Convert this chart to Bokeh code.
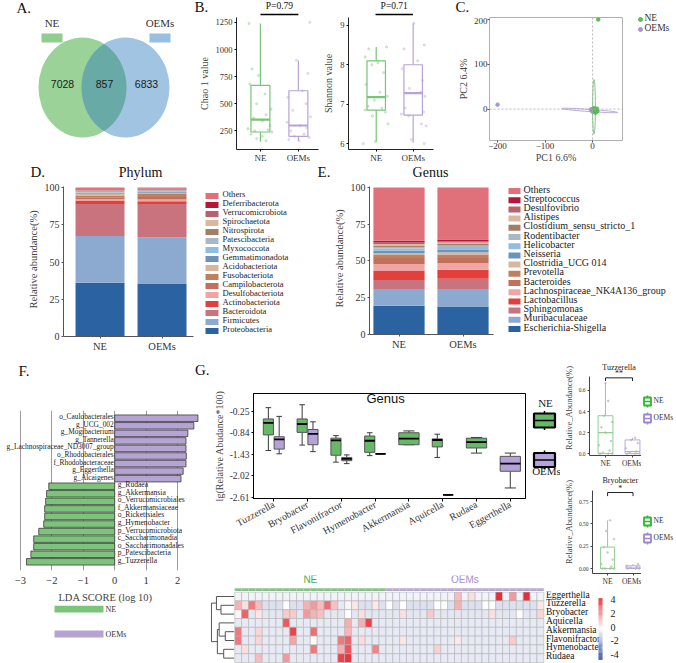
import numpy as np
from bokeh.plotting import figure
from bokeh.layouts import row, column
from bokeh.models import Range1d, Span, ColumnDataSource, LinearColorMapper
from bokeh.core.properties import value
from bokeh.embed import file_html
from bokeh.resources import INLINE

# ======================= DATA =======================
groups = ["NE", "OEMs"]
venn_only = [7028, 6833]
venn_shared = 857

# box stats: low whisker, q1, median, q3, high whisker
chao_ne = [150, 240, 355, 670, 1240]
chao_oe = [160, 200, 300, 620, 900]
chao_ne_pts = [1240, 820, 760, 680, 590, 500, 450, 400, 370, 340, 300, 270, 260, 250, 240, 220, 200, 180, 160]
chao_ne_jit = [-0.30, -0.22, -0.05, -0.28, 0.12, -0.10, 0.28, 0.15, -0.18, 0.05, 0.25, -0.33, 0.20, -0.15, 0.30, -0.25, 0.05, -0.10, 0.15]
chao_oe_pts = [1250, 900, 780, 620, 560, 500, 440, 380, 330, 300, 280, 250, 220, 200, 190, 170, 160]
chao_oe_jit = [0.30, -0.05, 0.25, 0.10, -0.28, 0.20, -0.15, 0.32, -0.30, 0.05, 0.22, -0.20, 0.15, -0.10, 0.28, -0.25, 0.02]
chao_p = "P=0.79"

shan_ne = [6.05, 6.85, 7.18, 8.10, 8.45]
shan_oe = [6.02, 6.72, 7.28, 8.00, 9.05]
shan_ne_pts = [8.45, 8.40, 8.20, 8.05, 8.00, 7.80, 7.50, 7.30, 7.20, 7.10, 6.95, 6.90, 6.85, 6.80, 6.70, 6.50, 6.05, 6.00]
shan_ne_jit = [0.28, -0.20, -0.30, 0.05, -0.12, 0.20, -0.28, 0.10, 0.30, -0.05, -0.22, 0.15, -0.30, 0.25, -0.10, 0.32, -0.02, -0.35]
shan_oe_pts = [9.05, 8.50, 8.40, 8.10, 7.90, 7.60, 7.40, 7.30, 7.20, 6.90, 6.80, 6.75, 6.70, 6.50, 6.45, 6.10, 6.00]
shan_oe_jit = [0.02, 0.30, -0.25, 0.12, -0.30, 0.25, -0.10, 0.20, 0.32, -0.22, 0.28, -0.32, -0.12, 0.22, 0.35, -0.05, 0.30]
shan_p = "P=0.71"

pca_ne_x = [12, 5, 8, 3, 10, 6, 2, 9, 4, 7]
pca_ne_y = [200, -2, -6, 2, -4, -8, -3, 1, -5, -1]
pca_oe_x = [-200, -2, 1, -4, 3, 0, -1, 2]
pca_oe_y = [10, -3, -5, -1, -2, -6, 0, -4]
pca_ne_ellipse = [3, 5, 6, 122, 0.0]      # cx, cy, width, height, angle
pca_oe_ellipse = [-6, -3, 118, 5, -0.07]

phylum_names = ["Proteobacteria", "Firmicutes", "Bacteroidota", "Actinobacteriota", "Desulfobacteriota",
                "Campilobacterota", "Fusobacteriota", "Acidobacteriota", "Gemmatimonadota", "Myxococcota",
                "Patescibacteria", "Nitrospirota", "Spirochaetota", "Verrucomicrobiota", "Deferribacterota", "Others"]
phylum_ne = [36.0, 31.5, 21.5, 2.2, 1.0, 1.3, 1.2, 0.9, 0.6, 0.5, 0.7, 0.3, 0.3, 0.5, 0.3, 1.2]
phylum_oe = [35.5, 31.0, 22.5, 1.8, 1.2, 1.6, 2.0, 0.8, 0.6, 0.5, 0.6, 0.2, 0.2, 0.4, 0.2, 0.9]

genus_names = ["Escherichia-Shigella", "Muribaculaceae", "Sphingomonas", "Lactobacillus",
               "Lachnospiraceae_NK4A136_group", "Bacteroides", "Prevotella", "Clostridia_UCG 014",
               "Neisseria", "Helicobacter", "Rodentibacter", "Clostidium_sensu_stricto_1", "Alistipes",
               "Desulfovibrio", "Streptococcus", "Others"]
genus_ne = [19.5, 11.0, 6.5, 6.5, 4.5, 4.0, 2.0, 1.5, 1.5, 1.5, 1.0, 1.0, 1.0, 1.0, 1.2, 36.3]
genus_oe = [19.0, 12.0, 7.0, 6.0, 4.5, 3.5, 2.5, 1.5, 1.5, 2.0, 1.0, 1.0, 1.0, 1.0, 1.2, 35.3]

stack_colors = ["#2b62a1", "#8ca9cf", "#c8737e", "#e2403c", "#f0a5a5", "#c2705e", "#c0805e", "#d6b79b",
                "#6b93bd", "#90bde1", "#a7b9c6", "#a37e66", "#d8b9a0", "#b9606f", "#b5173a", "#e0707a"]

lda_names = ["o_Caulobacterales", "g_UCG_002", "g_Mogibacterium", "g_Tannerella", "g_Lachnospiraceae_ND3007_group",
             "o_Rhodobacterales", "f_Rhodobacteraceae", "g_Eggerthella", "g_Alcaigenes", "g_Rudaea",
             "g_Akkermansia", "o_Verrucomicrobiales", "f_Akkermansiaceae", "o_Rickettsiales", "g_Hymenobacter",
             "p_Verrucomicrobiota", "c_Saccharimonadia", "o_Saccharimonadales", "p_Patescibacteria", "g_Tuzzerella"]
lda_scores = [2.65, 2.52, 2.33, 2.27, 2.27, 2.28, 2.27, 2.18, 2.11, -2.10, -2.17, -2.20, -2.23, -2.23, -2.26,
              -2.42, -2.58, -2.58, -2.67, -2.81]

box_genera = ["Tuzzerella", "Bryobacter", "Flavonifractor", "Hymenobacter", "Akkermansia", "Aquicella", "Rudaea", "Eggerthella"]
ne_lo = [-1.33, -1.18, -1.65, -1.47, -1.17, -1.52, -1.40, None]
ne_q1 = [-0.90, -0.83, -1.46, -1.38, -1.17, -1.23, -1.26, None]
ne_md = [-0.57, -0.60, -1.05, -1.06, -1.00, -1.04, -1.10, None]
ne_q3 = [-0.46, -0.46, -0.99, -0.93, -0.84, -1.01, -0.99, None]
ne_hi = [-0.15, -0.07, -0.92, -0.84, -0.79, -0.88, -0.97, None]
oe_lo = [-1.42, -1.36, -1.69, -1.42, None, -2.55, None, -2.36]
oe_q1 = [-1.29, -1.17, -1.61, -1.42, None, -2.55, None, -1.90]
oe_md = [-1.02, -0.87, -1.56, -1.42, None, -2.55, None, -1.69]
oe_q3 = [-0.95, -0.75, -1.52, -1.42, None, -2.55, None, -1.49]
oe_hi = [-0.39, -0.54, -1.45, -1.42, None, -2.55, None, -1.40]
box_ticks = [-0.25, -0.84, -1.43, -2.02, -2.61]

tuz_ne = [0.0, 0.0, 0.20, 0.36, 0.67]
tuz_oe = [0.0, 0.0, 0.02, 0.13, 0.15]
tuz_ne_pts = [0.0, 0.0, 0.0, 0.01, 0.03, 0.08, 0.12, 0.2, 0.25, 0.3, 0.36, 0.5, 0.67]
tuz_ne_jit = [-0.2, 0.1, 0.25, -0.1, 0.15, -0.25, 0.2, 0.0, -0.15, 0.25, -0.05, 0.1, 0.0]
tuz_oe_pts = [0.0, 0.0, 0.0, 0.01, 0.02, 0.05, 0.1, 0.13, 0.15]
tuz_oe_jit = [-0.2, 0.1, 0.25, -0.1, 0.15, -0.25, 0.2, -0.05, 0.1]
bry_ne = [0.0, 0.0, 0.0, 0.24, 0.54]
bry_oe = [0.0, 0.0, 0.005, 0.03, 0.05]
bry_ne_pts = [0.0, 0.0, 0.0, 0.0, 0.02, 0.05, 0.1, 0.18, 0.24, 0.33, 0.42, 0.54]
bry_ne_jit = [-0.2, 0.1, 0.25, -0.1, 0.15, -0.25, 0.2, 0.0, -0.15, 0.25, -0.05, 0.1]
bry_oe_pts = [0.0, 0.0, 0.0, 0.01, 0.02, 0.03, 0.05]
bry_oe_jit = [-0.2, 0.1, 0.25, -0.1, 0.15, -0.25, 0.2]

heat_rows = ["Eggerthella", "Tuzzerella", "Bryobacter", "Aquicella", "Akkermansia", "Flavonifractor", "Hymenobacter", "Rudaea"]
heat_n_ne = 22
heat_n_oe = 23
heat_eggerthella = [-0.3, -0.3, -0.3, -0.3, -0.3, -0.3, -0.3, -0.3, -0.3, -0.3, -0.3, -0.3, -0.3, -0.3, -0.3,
                    -0.3, -0.3, -0.3, -0.3, -0.3, -0.3, -0.3, -0.3, -0.3, -0.3, -0.3, -0.3, -0.3, -0.3, -0.3,
                    -0.3, -0.3, 1.3, -0.3, 0.6, -0.3, -0.3, -0.3, 4.0, -0.3, 2.0, -0.3, 4.0, -0.3, -0.3]
heat_tuzzerella = [1.5, 0.6, 2.5, 1.3, -0.7, -0.7, -0.7, 0.1, -0.7, -0.7, 1.5, 2.0, 1.3, 2.8, 1.2,
                   -0.5, -0.2, 0.5, -0.7, -0.7, 0.5, -0.7, -0.1, -0.7, 0.0, -0.7, -0.7, -0.7, -0.7, 0.0,
                   -0.1, -0.7, 1.5, -0.7, -0.7, -0.7, -0.1, -0.1, -0.7, -0.7, -0.7, -0.7, -0.7, -0.7, 0.5]
heat_bryobacter = [0.2, 3.0, -0.55, 0.5, -0.55, -0.55, -0.55, 1.0, 1.0, -0.55, 2.0, 1.5, 1.2, -0.55, -0.55,
                   -0.55, 0.0, -0.55, 0.6, -0.55, -0.55, -0.55, -0.55, -0.55, 0.6, -0.55, -0.55, -0.55, 1.0, -0.55,
                   -0.55, -0.55, -0.55, -0.55, -0.55, -0.55, -0.55, 0.6, -0.55, -0.55, -0.55, -0.1, -0.55, -0.55, 0.8]
heat_aquicella = [-0.45, -0.45, -0.45, -0.45, -0.45, -0.45, -0.45, 3.2, -0.45, -0.45, -0.45, -0.45, -0.45, -0.45, -0.45,
                  -0.45, 1.6, -0.45, 1.6, 3.6, -0.45, -0.45, -0.45, -0.45, -0.45, -0.45, -0.45, -0.45, -0.45, -0.45,
                  -0.45, -0.45, -0.45, -0.45, -0.45, -0.45, -0.45, -0.45, -0.45, -0.45, -0.45, -0.45, -0.45, -0.45, -0.45]
heat_akkermansia = [2.6, -0.45, -0.45, 0.8, -0.45, -0.45, -0.45, -0.45, 3.6, -0.45, -0.45, 2.8, -0.45, -0.45, -0.45,
                    -0.45, 1.4, -0.45, -0.45, -0.45, -0.45, -0.45, -0.45, -0.45, -0.45, -0.45, -0.45, -0.45, -0.45, -0.45,
                    -0.45, -0.45, -0.45, -0.45, -0.45, -0.45, -0.45, -0.45, -0.45, -0.45, -0.45, -0.45, -0.45, -0.45, -0.45]
heat_flavonifractor = [2.6, -0.45, -0.45, 0.8, -0.45, -0.45, -0.45, -0.45, 1.8, -0.45, -0.45, 0.1, -0.45, -0.45, -0.45,
                       2.6, 3.0, -0.45, 0.7, -0.45, -0.45, -0.45, -0.45, -0.45, 0.5, -0.45, -0.45, -0.45, -0.45, -0.45,
                       -0.45, -0.45, 0.4, -0.45, -0.45, -0.45, -0.45, -0.45, -0.45, -0.45, 1.0, -0.45, -0.45, -0.45, -0.45]
heat_hymenobacter = [-0.45, 0.6, -0.45, -0.45, -0.45, -0.45, -0.45, -0.45, -0.45, -0.45, -0.45, 2.6, -0.45, -0.45, -0.45,
                     1.6, 3.3, -0.45, -0.45, -0.45, 2.4, -0.45, -0.45, -0.45, -0.45, -0.45, -0.45, -0.45, -0.45, 0.9,
                     -0.45, -0.45, -0.45, -0.45, -0.45, -0.45, -0.45, -0.45, -0.45, -0.45, -0.45, -0.45, -0.45, -0.45, -0.45]
heat_rudaea = [-0.45, -0.45, -0.45, 1.3, -0.45, -0.45, -0.45, 2.0, -0.45, -0.45, -0.45, -0.45, -0.45, -0.45, -0.45,
               3.6, 3.9, -0.45, -0.45, -0.45, -0.45, -0.45, -0.45, -0.45, -0.45, -0.45, -0.45, -0.45, -0.45, -0.45,
               -0.45, -0.45, -0.45, -0.45, -0.45, -0.45, -0.45, -0.45, -0.45, -0.45, -0.45, -0.45, -0.45, -0.45, -0.45]
heat_values = [heat_eggerthella, heat_tuzzerella, heat_bryobacter, heat_aquicella, heat_akkermansia,
               heat_flavonifractor, heat_hymenobacter, heat_rudaea]
heat_legend_ticks = [4, 2, 0, -2, -4]
# row clustering: (child a, child b, height); new nodes numbered 8, 9, ...
dend_merges = [(1, 2, 0.58), (0, 8, 0.78), (4, 5, 0.39), (3, 10, 0.66), (6, 7, 0.46), (11, 12, 0.74), (9, 13, 1.0)]

# ======================= STYLE / LAYOUT HELPERS =======================
GREEN = "#79c37a"
PURPLE = "#b7a3d6"
SERIF = "Liberation Serif"
SANS = "Liberation Sans"
LETTER = "15px"


def panel(box, frame=None, xr=(0, 1), yr=(0, 1), xaxis=True, yaxis=True):
    x0, y0, x1, y1 = box
    fx0, fy0, fx1, fy1 = frame if frame else box
    kw = {}
    if not xaxis:
        kw["x_axis_location"] = None
    if not yaxis:
        kw["y_axis_location"] = None
    p = figure(width=x1 - x0, height=y1 - y0,
               x_range=Range1d(*xr), y_range=Range1d(*yr),
               output_backend="svg", toolbar_location=None, title=None,
               min_border_left=fx0 - x0, min_border_right=x1 - fx1,
               min_border_top=fy0 - y0, min_border_bottom=y1 - fy1, **kw)
    p.outline_line_color = None
    p.grid.visible = False
    for ax in p.axis:
        ax.major_label_text_font = SERIF
        ax.axis_label_text_font = SERIF
        ax.axis_label_text_font_style = "normal"
        ax.minor_tick_line_color = None
        ax.major_tick_in = 0
        ax.major_tick_out = 2
        ax.major_label_standoff = 2
        ax.axis_label_standoff = 3
        ax.major_label_text_color = "#333333"
        ax.axis_line_color = "#222222"
    return p


def strip(box):
    x0, y0, x1, y1 = box
    return panel(box, xr=(x0, x1), yr=(0, y1 - y0), xaxis=False, yaxis=False)


def mapper(frame, xr, yr):
    fx0, fy0, fx1, fy1 = frame
    fx = lambda px: xr[0] + (px - fx0) / (fx1 - fx0) * (xr[1] - xr[0])
    fy = lambda py: yr[1] + (py - fy0) / (fy1 - fy0) * (yr[0] - yr[1])
    return fx, fy


def to_px(frame, xr):
    fx0, _, fx1, _ = frame
    return lambda x: fx0 + (x - xr[0]) / (xr[1] - xr[0]) * (fx1 - fx0)


def txt(p, xs, ys, texts, size, font=SERIF, align="center", color="#222222", lift=True, **kw):
    # svg 'middle' baseline sits slightly low: lift by ~0.2 em so the glyphs centre on y
    dy = -0.2 * float(size.replace("px", "")) if lift else 0
    p.text(x=xs, y=ys, text=texts, text_font=value(font), text_font_size=size,
           text_align=align, text_baseline="middle", text_color=color, y_offset=dy, **kw)


def W(p):
    return column(p)


# ======================= A: Venn =======================
pA = panel((0, 0, 192, 165), xr=(0, 192), yr=(0, 165), xaxis=False, yaxis=False)
ya = lambda v: 165 - v
vcx = [82.0, 125.0]
vcy, vrx, vry = ya(87.0), 44.0, 50.0
pA.ellipse(x=vcx, y=[vcy, vcy], width=2 * vrx, height=2 * vry, fill_color=["#9ad298", "#a0c4e2"], line_color=None)
t0 = np.arccos(((vcx[0] + vcx[1]) / 2 - vcx[0]) / vrx)
ta = np.linspace(-t0, t0, 40)
tb = np.linspace(np.pi - t0, np.pi + t0, 40)
lens_x = list(vcx[0] + vrx * np.cos(ta)) + list(vcx[1] + vrx * np.cos(tb))
lens_y = list(vcy + vry * np.sin(ta)) + list(vcy + vry * np.sin(tb))
pA.patch(lens_x, lens_y, fill_color="#67aaa6", line_color=None)
txt(pA, [62, 104, 146], [ya(86)] * 3, [str(venn_only[0]), str(venn_shared), str(venn_only[1])], "10.5px", font=SANS, color="#1a1a1a")
pA.rect(x=[51.5, 159.5], y=[ya(37.5)] * 2, width=21, height=9, fill_color=["#8fce8f", "#96bfe0"], line_color=None)
txt(pA, [51.5, 159.5], [ya(25)] * 2, groups, "11px", color="#333333")
txt(pA, [16], [ya(10)], ["A."], LETTER, align="left", color="#111111")


# ======================= B: alpha diversity =======================
def alpha_panel(box, frame, xr, yr, stats, pts, jits, ticks, ylab):
    p = panel(box, frame, xr, yr)
    p.yaxis.ticker = ticks
    p.yaxis.axis_label = ylab
    p.yaxis.axis_label_text_font_size = "10px"
    p.yaxis.major_label_text_font_size = "8.5px"
    p.xaxis.ticker = [0, 1]
    p.xaxis.major_label_overrides = {0: groups[0], 1: groups[1]}
    p.xaxis.major_label_text_font_size = "9px"
    p.xaxis.major_label_standoff = 1
    cols = [GREEN, PURPLE]
    for gi in range(2):
        lo, q1, md, q3, hi = stats[gi]
        p.segment(x0=[gi, gi], x1=[gi, gi], y0=[q3, q1], y1=[hi, lo], line_color=cols[gi], line_width=1.2)
        p.vbar(x=[gi], width=0.5, bottom=[q1], top=[q3], fill_color=None, line_color=cols[gi], line_width=1.2)
        p.segment(x0=[gi - 0.25], x1=[gi + 0.25], y0=[md], y1=[md], line_color=cols[gi], line_width=2.2)
        p.scatter(x=[gi + j for j in jits[gi]], y=pts[gi], size=2.3, color=cols[gi], alpha=0.3)
    return p


B1_FR, b1_xr = (236, 17, 318, 152), (-0.63, 1.53)
B2_FR, b2_xr = (347, 17, 433, 152), (-0.75, 1.55)
pB1 = alpha_panel((192, 17, 320, 165), B1_FR, b1_xr, (79, 1295), [chao_ne, chao_oe], [chao_ne_pts, chao_oe_pts],
                  [chao_ne_jit, chao_oe_jit], [250, 500, 750, 1000, 1250], "Chao 1 value")
pB2 = alpha_panel((320, 17, 440, 165), B2_FR, b2_xr, (5.85, 9.198), [shan_ne, shan_oe], [shan_ne_pts, shan_oe_pts],
                  [shan_ne_jit, shan_oe_jit], [6, 7, 8, 9], "Shannon value")
# strip above the two alpha panels: letter, significance brackets
pTB = strip((192, 0, 440, 17))
px1, px2 = to_px(B1_FR, b1_xr), to_px(B2_FR, b2_xr)
pTB.segment(x0=[px1(0), px2(0)], x1=[px1(1), px2(1)], y0=[17 - 14] * 2, y1=[17 - 14] * 2, line_color="black", line_width=1.5)
txt(pTB, [(px1(0) + px1(1)) / 2, (px2(0) + px2(1)) / 2], [17 - 7.5] * 2, [chao_p, shan_p], "9.5px", color="#111111")
txt(pTB, [194], [17 - 9.5], ["B."], LETTER, align="left", color="#111111")

# ======================= C: PCA =======================
C_FR = (489, 17, 622, 142)
c_xr, c_yr = (-217, 63), (-70, 204.4)
pC = panel((440, 17, 632, 165), C_FR, c_xr, c_yr)
pC.outline_line_color = "#b0b0b0"
pC.xaxis.ticker = [-200, -100, 0]
pC.yaxis.ticker = [0, 100, 200]
for ax in pC.axis:
    ax.axis_line_color = None
    ax.major_tick_line_color = "#555555"
    ax.major_label_text_font_size = "9px"
    ax.axis_label_text_font_size = "10px"
    ax.major_label_standoff = 0
    ax.axis_label_standoff = 0
pC.xaxis.axis_label = "PC1 6.6%"
pC.yaxis.axis_label = "PC2 6.4%"
pC.yaxis.axis_label_standoff = 2
pC.add_layout(Span(location=0, dimension="height", line_color="#aaaaaa", line_dash="2 2", line_width=0.8))
pC.add_layout(Span(location=0, dimension="width", line_color="#aaaaaa", line_dash="2 2", line_width=0.8))
for ell, col in [(pca_ne_ellipse, GREEN), (pca_oe_ellipse, PURPLE)]:
    pC.ellipse(x=[ell[0]], y=[ell[1]], width=[ell[2]], height=[ell[3]], angle=ell[4],
               fill_color=col, fill_alpha=0.05, line_color=col, line_width=0.9)
pC.scatter(x=pca_oe_x, y=pca_oe_y, size=3.5, color="#a796cf")
pC.scatter(x=pca_ne_x, y=pca_ne_y, size=3.5, color="#5cb85c")
pTC = strip((440, 0, 632, 17))
txt(pTC, [455], [17 - 9.5], ["C."], LETTER, align="left", color="#111111")

pCL = panel((632, 0, 676, 165), xr=(632, 676), yr=(0, 165), xaxis=False, yaxis=False)
pCL.scatter(x=[640, 640], y=[165 - 19, 165 - 29], size=4, color=["#5cb85c", "#a796cf"])
txt(pCL, [644, 644], [165 - 19, 165 - 29], groups, "9.5px", align="left", color="#333333")


# ======================= D / E: stacked composition =======================
def stack_panel(box, frame, xr, yr, names, ne, oe, bar_w, unit_px, leg_x, leg_y0, leg_dy, leg_w,
                leg_text_x, leg_font, tick_font, xb):
    p = panel(box, frame, xr, yr)
    fx, fy = mapper(frame, xr, yr)
    src = ColumnDataSource({**{n: [a, b] for n, a, b in zip(names, ne, oe)}, "x": [0, 1]})
    p.vbar_stack(names, x="x", width=bar_w, fill_color=stack_colors, line_color=None, source=src)
    p.xaxis.ticker = [0, 1]
    p.xaxis.major_label_overrides = {0: groups[0], 1: groups[1]}
    p.xaxis.bounds = xb
    p.yaxis.ticker = [0, 25, 50, 75, 100]
    p.yaxis.bounds = (0, 100.6)
    p.yaxis.axis_label = "Relative abundance(%)"
    p.yaxis.axis_label_text_font_size = "10.5px"
    p.yaxis.major_label_text_font_size = tick_font
    p.xaxis.major_label_text_font_size = "10.5px"
    for ax in p.axis:
        ax.axis_line_color = "#555555"
        ax.major_tick_line_color = "#555555"
    k = len(names)
    ly = [fy(leg_y0 + leg_dy * i) for i in range(k)]
    p.rect(x=[fx(leg_x)] * k, y=ly, width=leg_w / unit_px[0], height=6.0 / unit_px[1],
           fill_color=stack_colors[::-1], line_color=None)
    txt(p, [fx(leg_text_x)] * k, ly, names[::-1], leg_font, align="left", color="#222222")
    return p


pD = stack_panel((0, 182, 312, 360), (63, 182, 312, 336), (-0.589, 3.427), (0, 103.36), phylum_names, phylum_ne,
                 phylum_oe, 0.79, (62.0, 1.49), 211.5, 195.5, 9.0, 13, 222, "8.6px", "10px", (-0.589, 1.51))
pE = stack_panel((312, 182, 676, 360), (369, 182, 676, 334), (-0.461, 4.336), (0, 103.40), genus_names, genus_ne,
                 genus_oe, 0.8, (64.0, 1.47), 514, 190.5, 9.2, 12, 523, "10px", "10px", (-0.461, 1.48))
pTD = strip((0, 165, 676, 182))
txt(pTD, [30, 317], [182 - 174.5] * 2, ["D.", "E."], LETTER, align="left", color="#111111")
txt(pTD, [140, 430], [182 - 175] * 2, ["Phylum", "Genus"], "14px", color="#111111")

# ======================= F: LDA =======================
F_FR = (0, 410, 210, 572)
f_xr, f_yr = (-3.637, 3.05), (-1.15, 20.02)
pF = panel((0, 410, 210, 605), F_FR, f_xr, f_yr, yaxis=False)
pF.xaxis.ticker = [-3, -2, -1, 0, 1, 2]
pF.xgrid.visible = True
pF.xgrid.grid_line_color = "#9a9a9a"
pF.xaxis.axis_line_color = None
pF.xaxis.major_tick_line_color = None
pF.xaxis.major_label_text_font_size = "10.5px"
pF.xaxis.major_label_standoff = 4
pF.xaxis.axis_label = "LDA SCORE (log 10)"
pF.xaxis.axis_label_text_font_size = "10.5px"
pF.xaxis.axis_label_standoff = 5
n_l = len(lda_names)
ypos = [n_l - 1 - i for i in range(n_l)]
lcols = ["#b5a3d3" if v > 0 else "#7cc47a" for v in lda_scores]
pF.hbar(y=ypos, left=0, right=lda_scores, height=0.86, fill_color=lcols, line_color="#3c3c3c", line_width=0.8)
pos_i = [i for i, v in enumerate(lda_scores) if v > 0]
neg_i = [i for i, v in enumerate(lda_scores) if v <= 0]
txt(pF, [0] * len(pos_i), [ypos[i] for i in pos_i], [lda_names[i] for i in pos_i], "7.4px", align="right", x_offset=-1)
txt(pF, [0] * len(neg_i), [ypos[i] for i in neg_i], [lda_names[i] for i in neg_i], "7.6px", align="left", x_offset=3)
pTF = strip((0, 360, 210, 410))
txt(pTF, [18], [410 - 373.5], ["F."], LETTER, align="left", color="#111111")
txt(pTF, [209], [410 - 372.5], ["G."], LETTER, align="right", color="#111111")

pFL = panel((0, 605, 210, 663), xr=(0, 210), yr=(0, 58), xaxis=False, yaxis=False)
pFL.rect(x=[78.5, 78.5], y=[663 - 608.5, 663 - 633.5], width=49, height=7, fill_color=["#7cc47a", "#b5a3d3"], line_color=None)
txt(pFL, [105, 105], [663 - 609, 663 - 633.5], groups, "8px", align="left", color="#333333", lift=False)

# ======================= G: genus boxplot =======================
G_FR = (249, 393, 525, 498)
g_xr, g_yr = (-0.6, 7.45), (-2.65, 0.24)
pG = panel((210, 360, 530, 575), G_FR, g_xr, g_yr)
pG.outline_line_color = "black"
pG.xaxis.ticker = list(range(len(box_genera)))
pG.xaxis.major_label_overrides = {i: g for i, g in enumerate(box_genera)}
pG.xaxis.major_label_orientation = 0.5
pG.xaxis.major_label_text_font_size = "10px"
pG.xaxis.major_tick_out = 3
pG.yaxis.ticker = box_ticks
pG.yaxis.major_label_overrides = {t: "%.2f" % t for t in box_ticks}
pG.yaxis.major_label_text_font_size = "9.5px"
pG.yaxis.axis_label = "lg(Relative Abudance*100)"
pG.yaxis.axis_label_text_font_size = "10px"
pG.yaxis.axis_label_standoff = 2
for ax in pG.axis:
    ax.axis_line_color = "black"
gfills = ["#66b966", "#b5a2d6"]
for i in range(len(box_genera)):
    gstats = [(ne_lo[i], ne_q1[i], ne_md[i], ne_q3[i], ne_hi[i]), (oe_lo[i], oe_q1[i], oe_md[i], oe_q3[i], oe_hi[i])]
    present = [s[0] is not None for s in gstats]
    both = all(present)
    for gi in range(2):
        if not present[gi]:
            continue
        lo, q1, md, q3, hi = gstats[gi]
        x = i + ((-0.16 if gi == 0 else 0.16) if both else 0.0)
        w = 0.3 if both else 0.6
        cw = w * 0.55
        pG.segment(x0=[x, x], x1=[x, x], y0=[q3, q1], y1=[hi, lo], line_color="#3a3a3a", line_width=1)
        pG.segment(x0=[x - cw / 2] * 2, x1=[x + cw / 2] * 2, y0=[hi, lo], y1=[hi, lo], line_color="#3a3a3a", line_width=1)
        pG.vbar(x=[x], width=w, bottom=[q1], top=[q3], fill_color=gfills[gi], line_color="#555555", line_width=1)
        pG.segment(x0=[x - w / 2], x1=[x + w / 2], y0=[md], y1=[md], line_color="black", line_width=1.8)
gfx, gfy = mapper(G_FR, g_xr, g_yr)
txt(pG, [gfx(383)], [gfy(401)], ["Genus"], "13px", font=SANS, color="#111111")

# legend beside the boxplot (same frame rows as the boxplot)
pGL = panel((530, 360, 560, 575), (530, 393, 560, 498), xr=(530, 560), yr=(0, 105), xaxis=False, yaxis=False)
gl_y = [498 - 420, 498 - 459.5]
pGL.segment(x0=[544, 544], x1=[544, 544], y0=[g - 9.5 for g in gl_y], y1=[g + 9.5 for g in gl_y], line_color="black", line_width=1.5)
pGL.rect(x=[544, 544], y=gl_y, width=21, height=14, fill_color=gfills, line_color="black", line_width=2.2)
pGL.segment(x0=[533.5, 533.5], x1=[554.5, 554.5], y0=gl_y, y1=gl_y, line_color="black", line_width=1.5)
txt(pGL, [545, 546], [498 - 405, 498 - 473], groups, "11px", color="#222222")


# ======================= small boxplots =======================
def small_panel(box, frame, xr, yr, stats, pts, jits, ticks, tlabels, bound_top, title, sig, title_y, sig_y, br_y, br_drop):
    p = panel(box, frame, xr, yr)
    p.yaxis.ticker = ticks
    p.yaxis.major_label_overrides = {t: l for t, l in zip(ticks, tlabels)}
    p.yaxis.bounds = (yr[0], bound_top)
    p.yaxis.major_label_text_font_size = "5.5px"
    p.yaxis.axis_label = "Relative_Abundance(%)"
    p.yaxis.axis_label_text_font_size = "8.5px"
    p.yaxis.axis_label_standoff = 2
    p.xaxis.ticker = [0, 1]
    p.xaxis.major_label_overrides = {0: groups[0], 1: groups[1]}
    p.xaxis.major_label_text_font_size = "7.5px"
    p.xaxis.major_label_standoff = 1
    for ax in p.axis:
        ax.axis_line_color = "#444444"
        ax.major_tick_line_color = "#444444"
    cols = ["#8fcf8f", "#b9a8db"]
    for gi in range(2):
        lo, q1, md, q3, hi = stats[gi]
        p.scatter(x=[gi + j for j in jits[gi]], y=pts[gi], size=1.8, color="#b0b0b0", alpha=0.5)
        p.segment(x0=[gi, gi], x1=[gi, gi], y0=[q3, q1], y1=[hi, lo], line_color=cols[gi], line_width=1)
        p.vbar(x=[gi], width=0.55, bottom=[q1], top=[q3], fill_color=None, line_color=cols[gi], line_width=1)
        p.segment(x0=[gi - 0.275], x1=[gi + 0.275], y0=[md], y1=[md], line_color=cols[gi], line_width=1.2)
    p.multi_line(xs=[[0, 0, 1, 1]], ys=[[br_y - br_drop, br_y, br_y, br_y - br_drop]], line_color="#222222", line_width=1)
    txt(p, [0.5], [sig_y], [sig], "8px", color="#222222")
    txt(p, [0.5], [title_y], [title], "8px", color="#222222")
    return p


pT = small_panel((560, 360, 641, 470), (589, 360, 641, 458), (-0.593, 1.333), (-0.018, 0.885),
                 [tuz_ne, tuz_oe], [tuz_ne_pts, tuz_oe_pts], [tuz_ne_jit, tuz_oe_jit],
                 [0, 0.2, 0.4, 0.6], ["0.0", "0.2", "0.4", "0.6"], 0.73, "Tuzzerella", "**", 0.80, 0.745, 0.72, 0.03)
pR = small_panel((560, 470, 641, 591), (589, 470, 641, 573), (-0.593, 1.333), (-0.056, 1.099),
                 [bry_ne, bry_oe], [bry_ne_pts, bry_oe_pts], [bry_ne_jit, bry_oe_jit],
                 [0, 0.25, 0.5, 0.75], ["0.00", "0.25", "0.50", "0.75"], 0.87, "Bryobacter", "*", 0.964, 0.875, 0.852, 0.04)

pSL = panel((641, 360, 676, 591), xr=(641, 676), yr=(0, 231), xaxis=False, yaxis=False)
sl_y = [591 - 401, 591 - 418, 591 - 521, 591 - 538]
sl_c = ["#2db52d", "#9d86d0", "#2db52d", "#9d86d0"]
pSL.segment(x0=[647] * 4, x1=[647] * 4, y0=[v - 6 for v in sl_y], y1=[v + 6 for v in sl_y], line_color=sl_c, line_width=1.5)
pSL.rect(x=[647] * 4, y=sl_y, width=7, height=8, fill_color="white", line_color=sl_c, line_width=1.8)
pSL.segment(x0=[643.5] * 4, x1=[650.5] * 4, y0=sl_y, y1=sl_y, line_color=sl_c, line_width=1.5)
txt(pSL, [653] * 4, sl_y, groups * 2, "7.5px", align="left", color="#333333")

# ======================= heatmap =======================
n_cols = heat_n_ne + heat_n_oe
hx0, hcw, hy0, hrh = 234.3, 6.867, 591.6, 8.8
hcol = lambda px: (px - hx0) / hcw
hrow = lambda py: 8 - (py - hy0) / hrh
pHT = panel((210, 575, 560, 591), xr=(hcol(210), hcol(560)), yr=(0, 16), xaxis=False, yaxis=False)
ann_cols = [("#7cc57c" if c < heat_n_ne else "#b9a6d6") for c in range(n_cols)]
pHT.rect(x=[c + 0.5 for c in range(n_cols)], y=[591 - 589.3] * n_cols, width=1, height=3,
         fill_color=ann_cols, line_color="#d0d0d0", line_width=0.4)
pHT.text(x=[heat_n_ne / 2, heat_n_ne + heat_n_oe / 2], y=[591 - 581] * 2, text=groups, text_font=value(SANS),
         text_font_size="10px", text_align="center", text_baseline="middle", text_color=["#4cae4c", "#a48fd1"],
         y_offset=-2)

pH = panel((210, 591, 676, 663), xr=(hcol(210), hcol(676)), yr=(hrow(663), hrow(591)), xaxis=False, yaxis=False)
lo_c, hi_c = np.array([0x24, 0x3c, 0x9a]), np.array([0xe3, 0x1e, 0x26])
white = np.array([255, 255, 255])
palette = []
for t in np.linspace(0, 1, 129):
    c = lo_c + (white - lo_c) * (t / 0.5) if t <= 0.5 else white + (hi_c - white) * ((t - 0.5) / 0.5)
    palette.append("#%02x%02x%02x" % tuple(int(round(v)) for v in c))
cmap = LinearColorMapper(palette=palette, low=-4.4, high=4.4)
hx, hy, hv = [], [], []
for r, vals in enumerate(heat_values):
    for c, v in enumerate(vals):
        hx.append(c + 0.5)
        hy.append(7.5 - r)
        hv.append(v)
pH.rect(x="x", y="y", width=1, height=1, source=ColumnDataSource(dict(x=hx, y=hy, v=hv)),
        fill_color={"field": "v", "transform": cmap}, line_color="#b3b3b3", line_width=0.6)
txt(pH, [n_cols + 0.3] * len(heat_rows), [7.5 - r for r in range(len(heat_rows))], heat_rows, "9.5px", align="left", color="#111111")
# dendrogram
node_y = {r: 7.5 - r for r in range(len(heat_rows))}
node_h = {r: 0.0 for r in range(len(heat_rows))}
dx = lambda h: -0.1 - h * 3.3
dxs, dys = [], []
nid = len(heat_rows)
for a, b, h in dend_merges:
    dxs.append([dx(node_h[a]), dx(h), dx(h), dx(node_h[b])])
    dys.append([node_y[a], node_y[a], node_y[b], node_y[b]])
    node_y[nid] = (node_y[a] + node_y[b]) / 2
    node_h[nid] = h
    nid += 1
pH.multi_line(xs=dxs, ys=dys, line_color="#555555", line_width=1)
# colour key (gradient bar + tick labels)
leg_v = [float(v) for v in np.linspace(cmap.low, cmap.high, 60)]
leg_step = (cmap.high - cmap.low) / 59
v2y = lambda v: hrow(628.5 - 6.875 * v)
key_src = ColumnDataSource(dict(x=[hcol(600)] * len(leg_v), y=[v2y(v) for v in leg_v], v=leg_v))
pH.rect(x="x", y="y", width=4 / hcw, height=leg_step * 6.875 / hrh * 1.05,
        fill_color={"field": "v", "transform": cmap}, line_color=None, source=key_src)
txt(pH, [hcol(610)] * len(heat_legend_ticks), [v2y(v) for v in heat_legend_ticks],
    [str(v) for v in heat_legend_ticks], "10px", align="left", color="#222222")

# ======================= assemble =======================
band1 = row(W(pA), column(W(pTB), row(W(pB1), W(pB2))), column(W(pTC), W(pC)), W(pCL))
band2 = column(W(pTD), row(W(pD), W(pE)))
colF = column(W(pTF), W(pF), W(pFL))
g_left = column(row(W(pG), W(pGL)), W(pHT))
g_top = row(g_left, column(W(pT), W(pR)), W(pSL))
colG = column(g_top, W(pH))
band3 = row(colF, colG)
layout = column(band1, band2, band3)
open("out.html", "w").write(file_html(layout, INLINE, "chart"))
